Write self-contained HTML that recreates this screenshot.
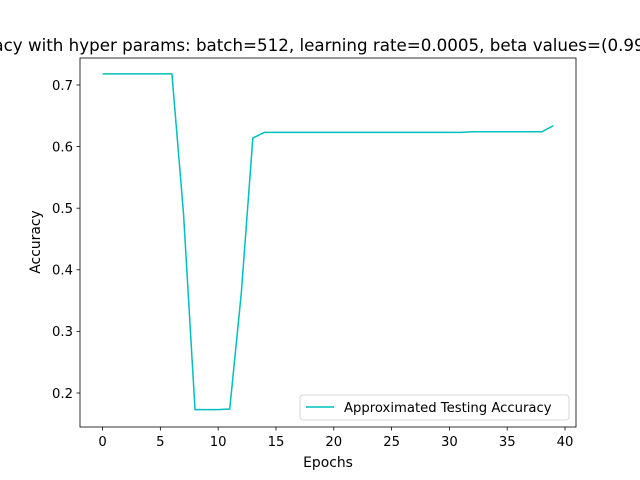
<!DOCTYPE html>
<html><head><meta charset="utf-8"><style>
body{margin:0;background:#fff;}
svg{display:block;font-family:"DejaVu Sans","Liberation Sans",sans-serif;}
</style></head><body>
<svg id="chart" width="640" height="480">
<rect width="640" height="480" fill="#fff"/>
<text x="328" y="51" text-anchor="middle" font-size="16.7">Accuracy with hyper params: batch=512, learning rate=0.0005, beta values=(0.99, 0.999)</text>
<g id="ticks"></g>
<path id="line" fill="none" stroke="#00bfbf" stroke-width="1.5"/>
<rect x="80" y="58" width="496" height="369" fill="none" stroke="#000" stroke-width="0.8"/>
<text x="328" y="467" text-anchor="middle" font-size="13.9">Epochs</text>
<text transform="translate(40,242) rotate(-90)" text-anchor="middle" font-size="13.9">Accuracy</text>
<g>
<rect x="300" y="395" width="269" height="25" rx="3" fill="#fff" fill-opacity="0.8" stroke="#ccc" stroke-width="0.8"/>
<line x1="306" y1="407" x2="334" y2="407" stroke="#00bfbf" stroke-width="1.5"/>
<text x="344" y="412" font-size="13.2">Approximated Testing Accuracy</text>
</g>
</svg>
<script>
const epochs=[];for(let i=0;i<40;i++)epochs.push(i);
const accuracy=[0.718,0.718,0.718,0.718,0.718,0.718,0.718,0.492,0.173,0.173,0.173,0.174,0.362,0.614,0.623,0.623,0.623,0.623,0.623,0.623,0.623,0.623,0.623,0.623,0.623,0.623,0.623,0.623,0.623,0.623,0.623,0.623,0.624,0.624,0.624,0.624,0.624,0.624,0.624,0.634];
const xTicks=[0,5,10,15,20,25,30,35,40];
const yTicks=[0.2,0.3,0.4,0.5,0.6,0.7];
const X0=80,X1=576,Y0=58,Y1=427,xmin=-1.95,xmax=40.95,ymin=0.1448,ymax=0.7438;
const sx=v=>X0+(v-xmin)/(xmax-xmin)*(X1-X0);
const sy=v=>Y1-(v-ymin)/(ymax-ymin)*(Y1-Y0);
document.getElementById('line').setAttribute('d',epochs.map((e,i)=>(i?'L':'M')+sx(e).toFixed(2)+','+sy(accuracy[i]).toFixed(2)).join(''));
const g=document.getElementById('ticks');const ns='http://www.w3.org/2000/svg';
function mk(t,a){const el=document.createElementNS(ns,t);for(const k in a)el.setAttribute(k,a[k]);g.appendChild(el);return el;}
xTicks.forEach(t=>{const x=sx(t);
const l=mk('line',{x1:x,x2:x,y1:Y1,y2:Y1+3.5,stroke:'#000','stroke-width':0.8});


const tx=mk('text',{x:x,y:Y1+19,'text-anchor':'middle','font-size':13.2});tx.textContent=t;

});
yTicks.forEach(t=>{const y=sy(t);
const l=mk('line',{x1:X0-3.5,x2:X0,y1:y,y2:y,stroke:'#000','stroke-width':0.8});


const tx=mk('text',{x:X0-7,y:y+4.8,'text-anchor':'end','font-size':13.2});tx.textContent=t.toFixed(1);

});
</script>
</body></html>
